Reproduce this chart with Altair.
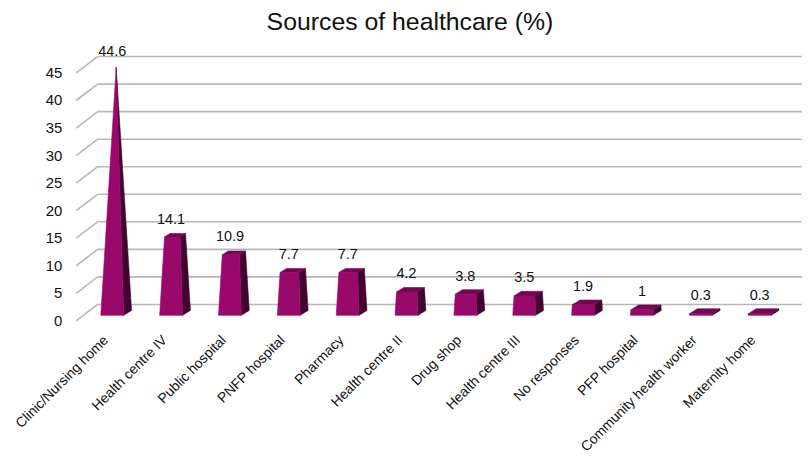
import altair as alt
import pandas as pd

# ---------------- data ----------------
categories = [
    "Clinic/Nursing home", "Health centre IV", "Public hospital", "PNFP hospital",
    "Pharmacy", "Health centre II", "Drug shop", "Health centre III",
    "No responses", "PFP hospital", "Community health worker", "Maternity home",
]
values = [44.6, 14.1, 10.9, 7.7, 7.7, 4.2, 3.8, 3.5, 1.9, 1.0, 0.3, 0.3]
value_labels = ["44.6", "14.1", "10.9", "7.7", "7.7", "4.2", "3.8", "3.5", "1.9", "1", "0.3", "0.3"]
y_ticks = [0, 5, 10, 15, 20, 25, 30, 35, 40, 45]
title_text = "Sources of healthcare (%)"

# ---------------- layout / style ----------------
FONT = "Liberation Sans"
PLOT_W, PLOT_H = 728, 278
PX_PER_CAT = 59.3          # pixels per category step
PX_PER_UNIT = 5.55         # pixels per percentage point
PLOT_LEFT_PX = 76          # page x of plot's left edge
FIRST_CENTER_PX = 113      # page x of first bar's front centre
X_MIN = (PLOT_LEFT_PX - FIRST_CENTER_PX) / PX_PER_CAT
X_MAX = X_MIN + PLOT_W / PX_PER_CAT
Y_MAX = PLOT_H / PX_PER_UNIT
X_FRONT = X_MIN + 0.7 / PX_PER_CAT            # front end of the y tick diagonals
X_BACK = X_MIN + 22.3 / PX_PER_CAT            # back wall
X_RIGHT = X_MIN + 732 / PX_PER_CAT            # gridline end

BAR_W = 23 / PX_PER_CAT        # front face width at base (category units)
DEPTH_X = 8 / PX_PER_CAT       # projected depth, x
DEPTH_Y = 5 / PX_PER_UNIT      # projected depth, y
H_APEX = max(values)

C_FRONT, C_TOP, C_SIDE = "#99086B", "#720752", "#420331"
C_GRID = "#B8B8B8"

xscale = alt.Scale(domain=[X_MIN, X_MAX], nice=False, zero=False)
yscale = alt.Scale(domain=[0, Y_MAX], nice=False, zero=False)


# ---------------- 3D frustum faces derived from the values ----------------
def proj(i, X, z, h):
    return (i + X + z * DEPTH_X, h + z * DEPTH_Y)


def slices(poly):
    ys = sorted(set(round(p[1], 9) for p in poly))
    out = []
    n = len(poly)
    for y in ys:
        xs = []
        for k in range(n):
            (x1, y1), (x2, y2) = poly[k], poly[(k + 1) % n]
            lo, hi = min(y1, y2), max(y1, y2)
            if lo - 1e-9 <= y <= hi + 1e-9:
                if abs(y2 - y1) < 1e-12:
                    xs += [x1, x2]
                else:
                    xs.append(x1 + (y - y1) * (x2 - x1) / (y2 - y1))
        out.append((y, min(xs), max(xs)))
    return out


rows = []
for i, v in enumerate(values):
    s = max(0.0, 1 - v / H_APEX)
    hw0, hw = BAR_W / 2, BAR_W / 2 * s
    zf, zb = 0.5 * (1 - s), 0.5 * (1 + s)
    front = [proj(i, -hw0, 0, 0), proj(i, hw0, 0, 0), proj(i, hw, zf, v), proj(i, -hw, zf, v)]
    side = [proj(i, hw0, 0, 0), proj(i, hw0, 1, 0), proj(i, hw, zb, v), proj(i, hw, zf, v)]
    faces = [("side", side), ("front", front)]
    if s > 0:
        top = [proj(i, -hw, zf, v), proj(i, hw, zf, v), proj(i, hw, zb, v), proj(i, -hw, zb, v)]
        faces.insert(1, ("top", top))
    for name, poly in faces:
        for y, xl, xr in slices(poly):
            rows.append({"bar": i, "face": name, "y": y, "xl": xl, "xr": xr})

faces_df = pd.DataFrame(rows)
bars_df = pd.DataFrame({"idx": list(range(len(categories))), "cat": categories,
                        "v": values, "lab": value_labels, "base": 0.0})
ticks_df = pd.DataFrame({"v": y_ticks, "xf": X_FRONT, "xb": X_BACK, "xr": X_RIGHT})


def face_layer(name, color):
    return alt.Chart(faces_df).transform_filter(alt.datum.face == name).mark_area(
        orient="horizontal", color=color, stroke=color, strokeWidth=0.6
    ).encode(
        y=alt.Y("y:Q", scale=yscale, axis=None),
        x=alt.X("xl:Q", scale=xscale, axis=None),
        x2="xr:Q",
        detail="bar:N",
    )


grid = alt.Chart(ticks_df).mark_rule(color=C_GRID, strokeWidth=1.6, yOffset=-11).encode(
    x=alt.X("xb:Q", scale=xscale, axis=None), x2="xr:Q",
    y=alt.Y("v:Q", scale=yscale, axis=None),
)
diag = alt.Chart(ticks_df).mark_rule(color=C_GRID, strokeWidth=1.6, yOffset=5.5, y2Offset=-11).encode(
    x=alt.X("xf:Q", scale=xscale, axis=None), x2="xb:Q",
    y=alt.Y("v:Q", scale=yscale, axis=None), y2="v:Q",
)
ylabels = alt.Chart(ticks_df).mark_text(
    align="right", baseline="middle", dx=-14, dy=5.5, fontSize=15, font=FONT, color="#111111"
).encode(
    x=alt.X("xf:Q", scale=xscale, axis=None),
    y=alt.Y("v:Q", scale=yscale, axis=None),
    text="v:Q",
)
vlabels = alt.Chart(bars_df).mark_text(
    align="center", baseline="middle", dy=-18, fontSize=14.5, font=FONT, color="#111111"
).encode(
    x=alt.X("idx:Q", scale=xscale, axis=None),
    y=alt.Y("v:Q", scale=yscale, axis=None),
    text="lab:N",
)
xlabels = alt.Chart(bars_df).mark_text(
    align="right", baseline="middle", angle=315, xOffset=-6, yOffset=23,
    fontSize=14, font=FONT, color="#111111"
).encode(
    x=alt.X("idx:Q", scale=xscale, axis=None),
    y=alt.Y("base:Q", scale=yscale, axis=None),
    text="cat:N",
)

chart = alt.layer(
    grid, diag, ylabels,
    face_layer("side", C_SIDE), face_layer("top", C_TOP), face_layer("front", C_FRONT),
    vlabels, xlabels,
).properties(
    width=PLOT_W, height=PLOT_H,
    title=alt.TitleParams(title_text, fontSize=25, font=FONT, fontWeight="normal",
                          anchor="middle", dx=-27, offset=5, color="#111111"),
    autosize=alt.AutoSizeParams(type="none"),
    padding={"left": 68, "top": 30, "right": 4, "bottom": 141},
).configure_view(strokeWidth=0)

chart.save("out.html", embed_options={"renderer": "svg", "actions": False})
